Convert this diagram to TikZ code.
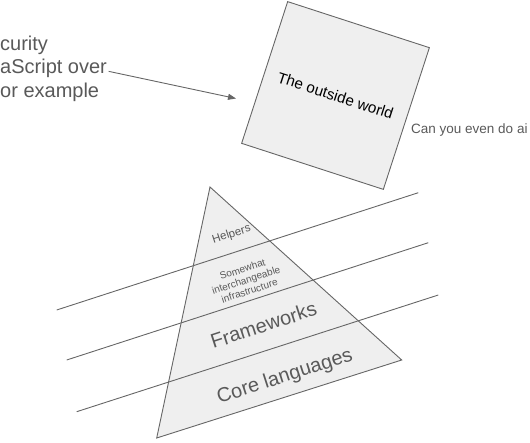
\documentclass[tikz,border=0pt]{standalone}
\usepackage{fontspec}
\setmainfont{Liberation Sans}
\usetikzlibrary{arrows.meta}
\definecolor{edge}{HTML}{666666}
\definecolor{shade}{HTML}{EFEFEF}
\definecolor{txt}{HTML}{595959}
\begin{document}
\begin{tikzpicture}[x=1pt,y=-1pt,
  shapeline/.style={draw=edge,line width=0.9pt,fill=shade},
  sepline/.style={draw=edge,line width=0.9pt},
  arrowline/.style={draw=edge,line width=0.9pt,-{Triangle[length=8pt,width=6pt]}},
  lefttext/.style={anchor=base west,inner sep=0pt,text=txt,font=\fontsize{20}{24}\selectfont},
  layer/.style={inner sep=0pt,text=txt,rotate=18,align=center}]
\useasboundingbox (0,0) rectangle (530,442);
% left text
\node[lefttext] (l1) at (0,50) {curity};
\node[lefttext] (over) at (0,73.5) {aScript over};
\node[lefttext] (l3) at (0,97) {or example};
% outside world square
\node[shapeline,minimum size=149pt,rotate=-18,inner sep=0pt,font=\fontsize{15.3}{18}\selectfont] (world) at (335.5,95.5) {The outside world};
\node[anchor=base west,inner sep=0pt,text=txt,font=\fontsize{13.5}{16}\selectfont] (air) at (411,133.5) {Can you even do ai};
\coordinate (tip) at (236,98.5);
\draw[arrowline] ([xshift=1.5pt,yshift=-3pt]over.east) -- (tip);
% pyramid
\coordinate (apex) at (210,187);
\coordinate (bl) at (156.7,438);
\coordinate (br) at (401.7,360);
\draw[shapeline] (apex) -- (bl) -- (br) -- cycle;
\coordinate (a1) at (56.7,310); \coordinate (b1) at (418.3,192.7);
\coordinate (a2) at (66.7,360); \coordinate (b2) at (428.3,242.7);
\coordinate (a3) at (76.7,411.7); \coordinate (b3) at (438.3,295);
\draw[sepline] (a1) -- (b1);
\draw[sepline] (a2) -- (b2);
\draw[sepline] (a3) -- (b3);
\node[layer,font=\fontsize{11.5}{13}\selectfont] (helpers) at (231.5,234.5) {Helpers};
\node[layer,font=\fontsize{10}{11.3}\selectfont] (infra) at (246,280) {Somewhat\\interchangeable\\infrastructure};
\node[layer,font=\fontsize{20}{24}\selectfont] (fw) at (263.5,325) {Frameworks};
\node[layer,font=\fontsize{20}{24}\selectfont] (core) at (285,377) {Core languages};
\end{tikzpicture}
\end{document}
